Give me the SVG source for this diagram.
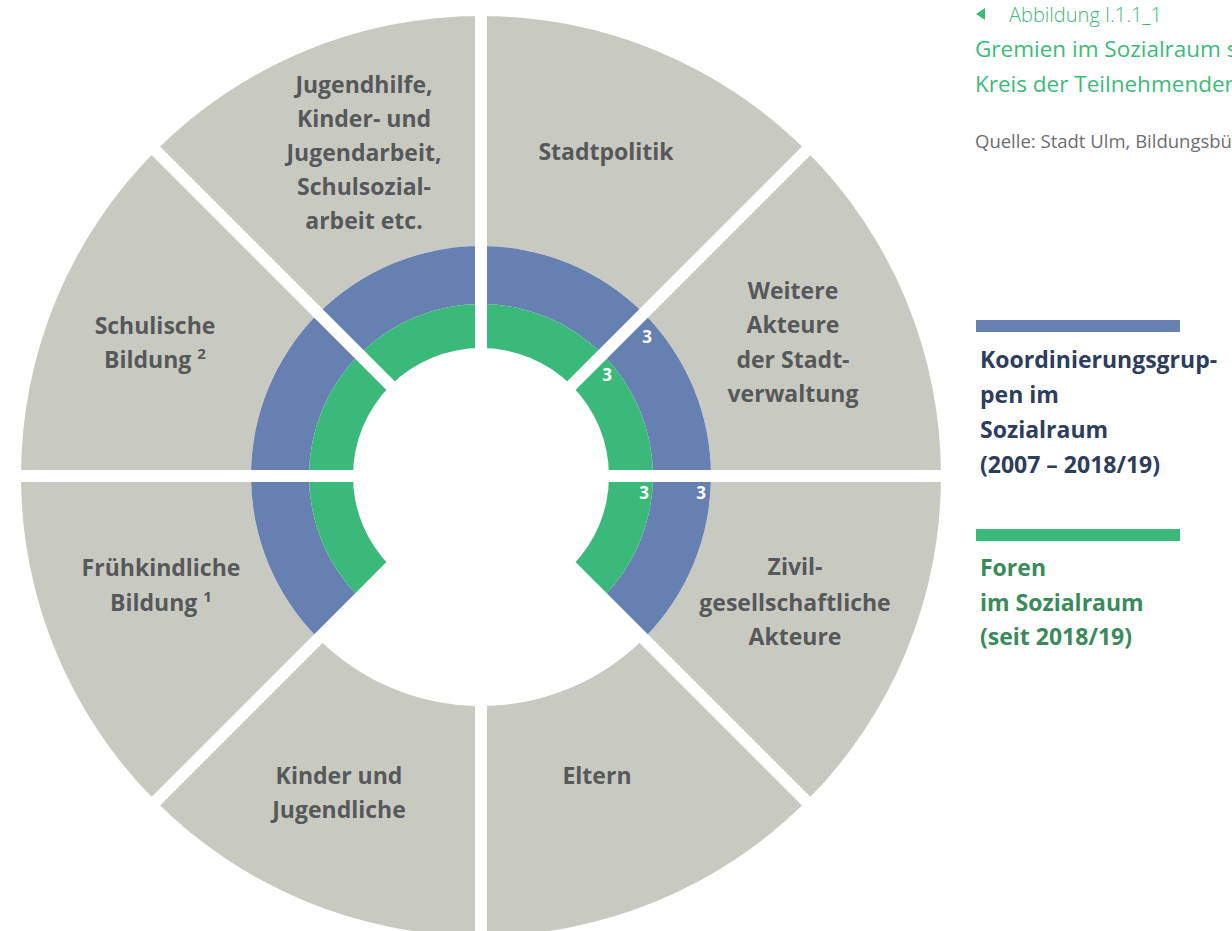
<svg xmlns="http://www.w3.org/2000/svg" width="1232" height="931" viewBox="0 0 1232 931">
<style>
.sec{fill:#c8cac1}
.lbl{font-family:"Open Sans","Liberation Sans",sans-serif;font-weight:bold;font-size:23px;fill:#575859;text-anchor:middle}
.sup{font-size:15px}
.num{font-family:"Open Sans","Liberation Sans",sans-serif;font-weight:bold;font-size:17px;fill:#ffffff;text-anchor:middle}
.gap{stroke:#ffffff;stroke-width:12;fill:none}
.leg{font-family:"Open Sans","Liberation Sans",sans-serif;font-weight:bold;font-size:23px}
.ttl{font-family:"Open Sans","Liberation Sans",sans-serif;fill:#3dba7a}
</style>
<rect width="1232" height="931" fill="#ffffff"/>
<g id="sector-stadtpolitik">
<path class="sec" d="M481,246 L481,16 A460,460 0 0 1 806.27,150.73 L643.63,313.37 A230,230 0 0 0 481,246 Z"/>
<text class="lbl" x="606" y="160">Stadtpolitik</text>
</g>
<g id="sector-weitere">
<path class="sec" d="M643.63,313.37 L806.27,150.73 A460,460 0 0 1 941,476 L711,476 A230,230 0 0 0 643.63,313.37 Z"/>
<text class="lbl" x="793" y="299">Weitere</text>
<text class="lbl" x="793" y="333">Akteure</text>
<text class="lbl" x="793" y="368">der Stadt-</text>
<text class="lbl" x="793" y="402">verwaltung</text>
</g>
<g id="sector-zivil">
<path class="sec" d="M711,476 L941,476 A460,460 0 0 1 806.27,801.27 L643.63,638.63 A230,230 0 0 0 711,476 Z"/>
<text class="lbl" x="795" y="575">Zivil-</text>
<text class="lbl" x="795" y="611">gesellschaftliche</text>
<text class="lbl" x="795" y="645">Akteure</text>
</g>
<g id="sector-eltern">
<path class="sec" d="M643.63,638.63 L806.27,801.27 A460,460 0 0 1 481,936 L481,706 A230,230 0 0 0 643.63,638.63 Z"/>
<text class="lbl" x="597" y="784">Eltern</text>
</g>
<g id="sector-kinder">
<path class="sec" d="M481,706 L481,936 A460,460 0 0 1 155.73,801.27 L318.37,638.63 A230,230 0 0 0 481,706 Z"/>
<text class="lbl" x="339" y="784">Kinder und</text>
<text class="lbl" x="339" y="818">Jugendliche</text>
</g>
<g id="sector-fruehkindlich">
<path class="sec" d="M318.37,638.63 L155.73,801.27 A460,460 0 0 1 21,476 L251,476 A230,230 0 0 0 318.37,638.63 Z"/>
<text class="lbl" x="161" y="576">Frühkindliche</text>
<text class="lbl" x="161" y="611">Bildung <tspan class="sup" dy="-9">1</tspan></text>
</g>
<g id="sector-schulisch">
<path class="sec" d="M251,476 L21,476 A460,460 0 0 1 155.73,150.73 L318.37,313.37 A230,230 0 0 0 251,476 Z"/>
<text class="lbl" x="155" y="334">Schulische</text>
<text class="lbl" x="155" y="368">Bildung <tspan class="sup" dy="-9">2</tspan></text>
</g>
<g id="sector-jugendhilfe">
<path class="sec" d="M318.37,313.37 L155.73,150.73 A460,460 0 0 1 481,16 L481,246 A230,230 0 0 0 318.37,313.37 Z"/>
<text class="lbl" x="364" y="93">Jugendhilfe,</text>
<text class="lbl" x="364" y="127">Kinder- und</text>
<text class="lbl" x="364" y="161">Jugendarbeit,</text>
<text class="lbl" x="364" y="195">Schulsozial-</text>
<text class="lbl" x="364" y="229">arbeit etc.</text>
</g>
<g id="ring-koordinierungsgruppen">
<path fill="#6680b2" d="M318.37,638.63 A230,230 0 1 1 643.63,638.63 L602.62,597.62 A172,172 0 1 0 359.38,597.62 Z"/>
</g>
<g id="ring-foren">
<path fill="#3bb97a" d="M359.38,597.62 A172,172 0 1 1 602.62,597.62 L571.51,566.51 A128,128 0 1 0 390.49,566.51 Z"/>
</g>
<g id="connectors">
<line class="gap" x1="481" y1="0" x2="481" y2="940"/>
<line class="gap" x1="10" y1="476" x2="952" y2="476"/>
<line class="gap" x1="145" y1="140" x2="817" y2="812"/>
<line class="gap" x1="817" y1="140" x2="145" y2="812"/>
</g>
<g id="numbers">
<text class="num" x="647" y="343">3</text>
<text class="num" x="607" y="381">3</text>
<text class="num" x="644" y="499">3</text>
<text class="num" x="701" y="499">3</text>
</g>
<g id="title">
<polygon points="976,14 985,8 985,20" fill="#3dba7a"/>
<text class="ttl" x="1009" y="22" font-size="20" font-weight="300">Abbildung I.1.1_1</text>
<text class="ttl" x="975" y="57" font-size="22.5">Gremien im Sozialraum s</text>
<text class="ttl" x="975" y="92" font-size="22.5">Kreis der Teilnehmenden</text>
<text x="975" y="148" font-family="Open Sans, Liberation Sans, sans-serif" font-size="18.5" fill="#6d6e70">Quelle: Stadt Ulm, Bildungsbü</text>
</g>
<g id="legend-koordinierungsgruppen">
<rect x="976" y="320" width="204" height="12" fill="#6680b2"/>
<text class="leg" fill="#2e3d5c" x="980" y="368">Koordinierungsgrup-</text>
<text class="leg" fill="#2e3d5c" x="980" y="403">pen im</text>
<text class="leg" fill="#2e3d5c" x="980" y="438">Sozialraum</text>
<text class="leg" fill="#2e3d5c" x="980" y="473">(2007 – 2018/19)</text>
</g>
<g id="legend-foren">
<rect x="976" y="529" width="204" height="12" fill="#3bb97a"/>
<text class="leg" fill="#3a8a5c" x="980" y="576">Foren</text>
<text class="leg" fill="#3a8a5c" x="980" y="611">im Sozialraum</text>
<text class="leg" fill="#3a8a5c" x="980" y="645">(seit 2018/19)</text>
</g>
</svg>
